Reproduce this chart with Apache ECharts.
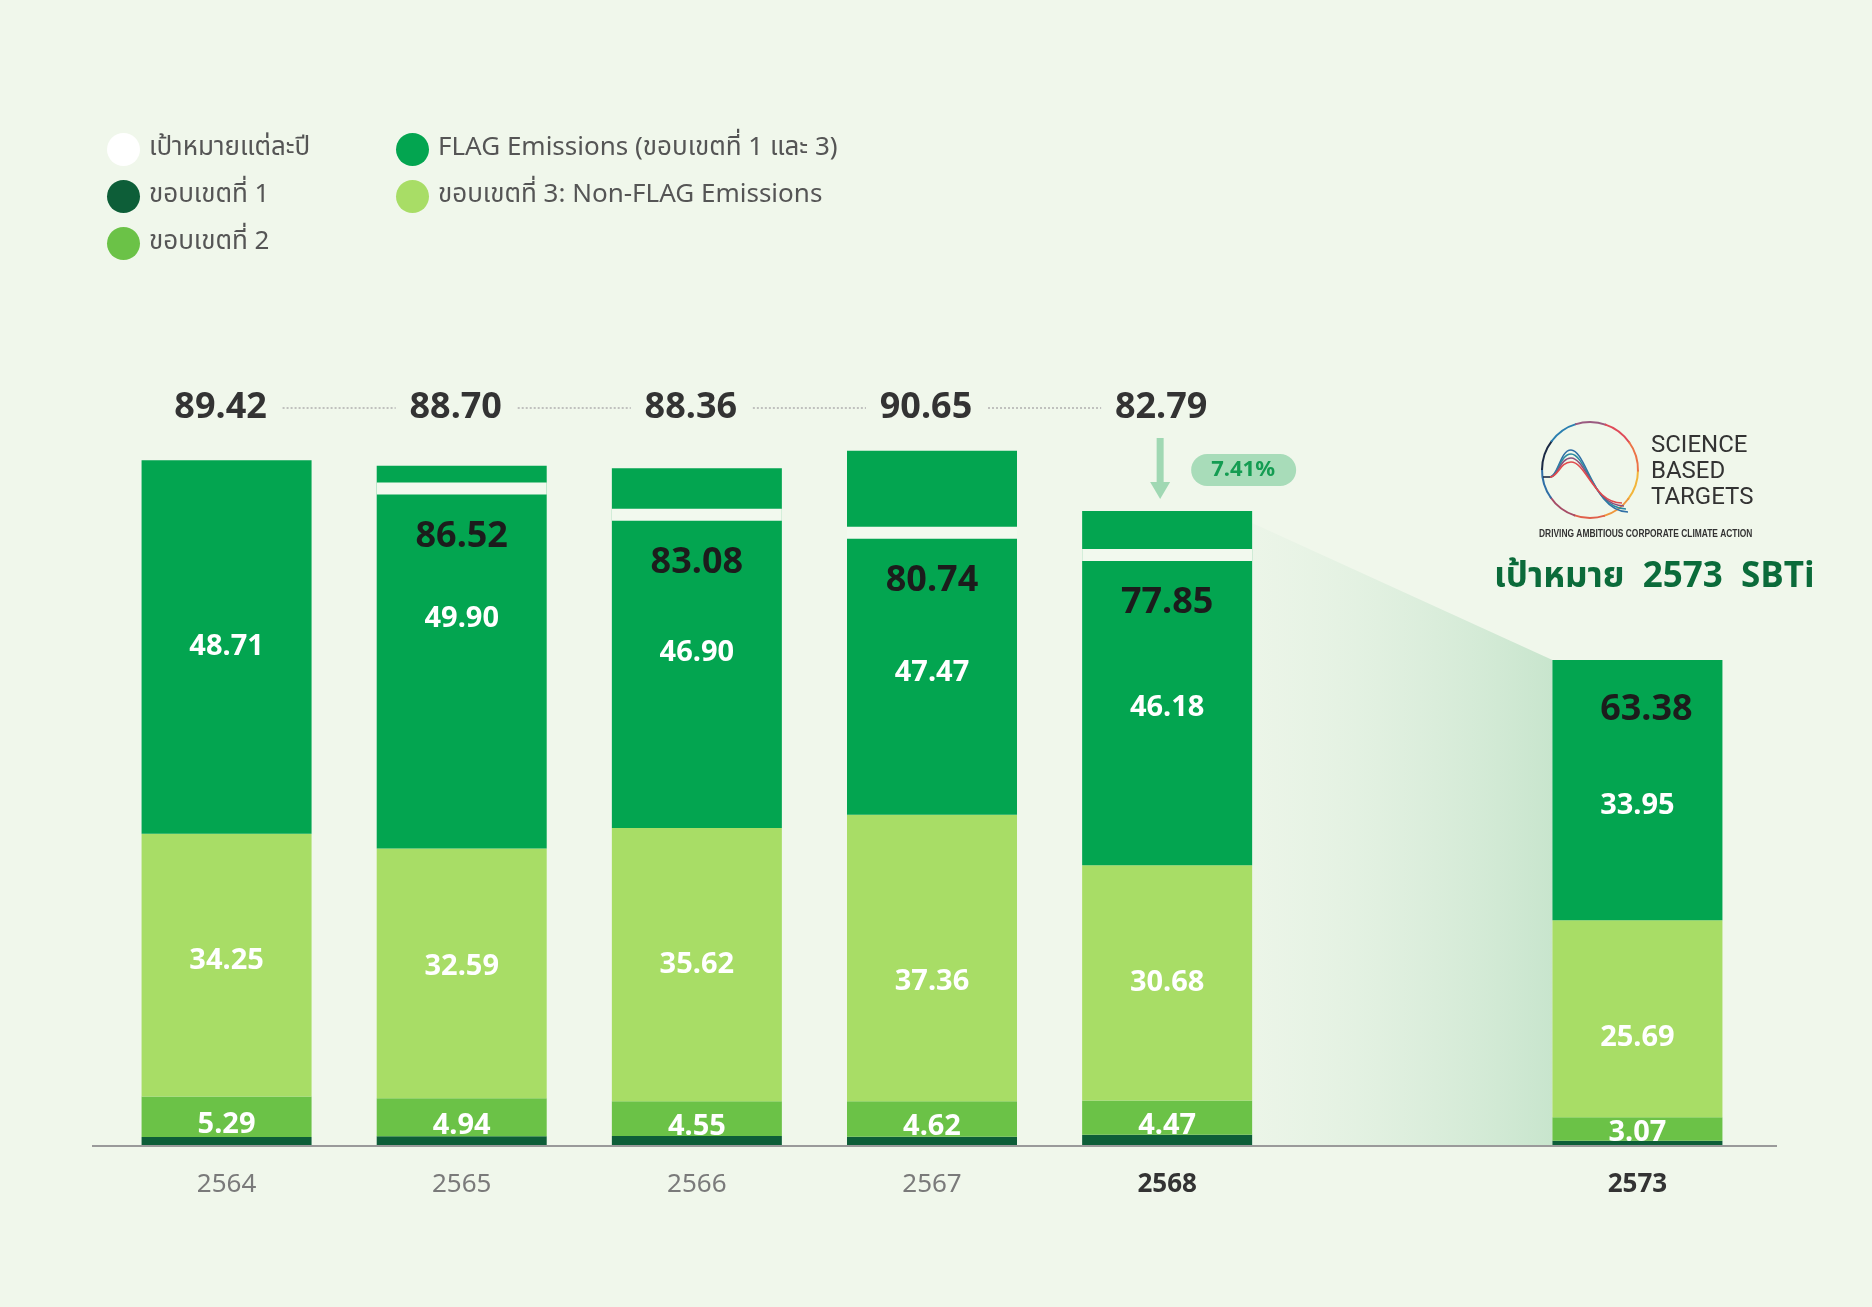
<!DOCTYPE html>
<html>
<head>
<meta charset="utf-8">
<title>SBTi emissions</title>
<script src="https://cdn.jsdelivr.net/npm/echarts@6/dist/echarts.min.js"></script>
<style>
  html, body { margin: 0; padding: 0; background: #f0f7eb; }
  #chart { width: 1872px; height: 1307px; }
</style>
</head>
<body>
<div id="chart"></div>
<script>
// ---- data ----
const years   = ['2564', '2565', '2566', '2567', '2568', '2573'];
const scope1  = [1.17, 1.27, 1.29, 1.20, 1.46, 0.67];
const scope2  = [5.29, 4.94, 4.55, 4.62, 4.47, 3.07];
const nonFlag = [34.25, 32.59, 35.62, 37.36, 30.68, 25.69];
const flag    = [48.71, 49.90, 46.90, 47.47, 46.18, 33.95];
const totals  = [89.42, 88.70, 88.36, 90.65, 82.79, 63.38];
const targets = [null, 86.52, 83.08, 80.74, 77.85, 63.38];

const NAMES = {
    target: 'เป้าหมายแต่ละปี',
    s1: 'ขอบเขตที่ 1',
    s2: 'ขอบเขตที่ 2',
    flag: 'FLAG Emissions (ขอบเขตที่ 1 และ 3)',
    nonFlag: 'ขอบเขตที่ 3: Non-FLAG Emissions'
};

// ---- layout / style ----
const BAR_W = 170;
const BAND_H = 12;
const ROW_Y = 408;          // row of yearly totals above bars
const THAI = "'Noto Sans Thai', 'Noto Sans', sans-serif";
const NUM = "'Noto Sans', sans-serif";
const flagShift = [0, -38, 5, 40, 20, 16];
const nonFlagShift = [-4, -7, 0, 24, 0, 19];
const scope2Shift = [8, 8, 8, 8, 8, 4];
const boldYears = ['2568', '2573'];

// years 2564..2568, empty slot, 2573
const slotOf = i => (i < 5 ? i : i + 1);
const slot = arr => [...arr.slice(0, 5), null, arr[5]];
const cats = [...years.slice(0, 5), '', years[5]].map(y =>
    boldYears.includes(y) ? { value: y, textStyle: { fontWeight: 'bold', color: '#333' } } : y);

const pct = ((totals[0] - totals[4]) / totals[0] * 100).toFixed(2) + '%';

var chart = echarts.init(document.getElementById('chart'));

function barSeries(name, arr, color, label, shifts) {
    let data = slot(arr.map((v, i) => shifts ? { value: v, label: { offset: [0, shifts[i]] } } : v));
    return {
        name: name, type: 'bar', stack: 'total', barWidth: BAR_W,
        itemStyle: { color: color },
        label: label,
        data: data,
        z: 3
    };
}

const whiteLabel = (size) => ({
    show: true, position: 'inside', color: '#fff', fontWeight: 'bold',
    fontFamily: NUM, fontSize: size,
    formatter: p => p.value == null ? '' : Number(p.value).toFixed(2)
});

// logo: ring in colour pieces and four waves
let waves = [];
const waveCols = ['#2f6fa6', '#2b8aa0', '#8a4f7c', '#e04b4d'];
for (let k = 0; k < 4; k++) {
    let py = 450 + k * 4, ex = 1628 - k * 2, ey = 512 - k * 3;
    let st = { stroke: waveCols[k], lineWidth: 1.6, fill: null };
    waves.push({ type: 'bezierCurve', shape: { x1: 1550, y1: 477, cpx1: 1558, cpy1: 477, cpx2: 1560, cpy2: py, x2: 1571, y2: py }, style: st });
    waves.push({ type: 'bezierCurve', shape: { x1: 1571, y1: py, cpx1: 1586, cpy1: py, cpx2: 1594, cpy2: ey, x2: ex, y2: ey }, style: st });
}
const ringCols = ['#f2b53a', '#ee973d', '#e0604a', '#a64c66', '#2f6fa6', '#1b2a44', '#2a7fb0', '#9a5a80', '#df4a58', '#ec7347'];
let ring = ringCols.map((c, i) => ({
    type: 'arc',
    shape: { cx: 1590, cy: 470, r: 48, startAngle: i * 2 * Math.PI / ringCols.length, endAngle: (i + 1.05) * 2 * Math.PI / ringCols.length },
    style: { stroke: c, lineWidth: 2, fill: null }
}));

option = {
    backgroundColor: '#f0f7eb',
    animation: false,
    grid: { left: 109, right: 117, top: 379, bottom: 161 },
    legend: [{
        orient: 'vertical', left: 102, top: 128, itemGap: 14,
        itemWidth: 33, itemHeight: 33, icon: 'circle', selectedMode: false,
        textStyle: { fontSize: 26, color: '#555', fontFamily: THAI, padding: [0, 0, 0, 4] },
        data: [NAMES.target, NAMES.s1, NAMES.s2]
    }, {
        orient: 'vertical', left: 391, top: 128, itemGap: 14,
        itemWidth: 33, itemHeight: 33, icon: 'circle', selectedMode: false,
        textStyle: { fontSize: 26, color: '#555', fontFamily: THAI, padding: [0, 0, 0, 4] },
        data: [NAMES.flag, NAMES.nonFlag]
    }],
    xAxis: {
        type: 'category', data: cats,
        axisLine: { show: false }, axisTick: { show: false },
        axisLabel: { margin: 26, fontSize: 26, color: '#7a7a7a', fontFamily: NUM }
    },
    yAxis: { type: 'value', min: 0, max: 100, show: false },
    graphic: [
        { type: 'line', shape: { x1: 92, y1: 1146, x2: 1777, y2: 1146 }, style: { stroke: '#9a9a9a', lineWidth: 2 }, z: 10 },
        ...ring, ...waves,
        { type: 'line', shape: { x1: 1543, y1: 477, x2: 1550, y2: 477 }, style: { stroke: '#1b2a44', lineWidth: 1.6 } },
        { type: 'text', left: 1651, top: 433, style: { text: 'SCIENCE\nBASED\nTARGETS', font: '24px Roboto', lineHeight: 26, fill: '#333' } },
        { type: 'text', x: 1539, y: 529, scaleX: 0.84, style: { text: 'DRIVING AMBITIOUS CORPORATE CLIMATE ACTION', font: 'bold 10px "Liberation Sans", Arial, sans-serif', fill: '#333' } },
        { type: 'text', left: 1494, top: 562, style: { text: 'เป้าหมาย  2573  SBTi', font: 'bold 35px ' + THAI, fill: '#0b6b3a' } }
    ],
    series: [
        {
            // shaded transition from 2568 to the 2573 target
            type: 'custom', z: 1, silent: true,
            data: [[slotOf(4), totals[4], slotOf(5), totals[5]]],
            renderItem: (params, api) => {
                const a = api.coord([api.value(0), api.value(1)]);
                const b = api.coord([api.value(2), api.value(3)]);
                const base = api.coord([0, 0])[1];
                const x1 = a[0] + BAR_W / 2, x2 = b[0] - BAR_W / 2;
                return {
                    type: 'polygon',
                    shape: { points: [[x1, a[1] + 12], [x2, b[1]], [x2, base], [x1, base]] },
                    style: {
                        fill: new echarts.graphic.LinearGradient(0, 0, 1, 0, [
                            { offset: 0, color: 'rgba(225,240,225,0.3)' },
                            { offset: 1, color: '#c8e5cd' }
                        ])
                    }
                };
            }
        },
        barSeries(NAMES.s1, scope1, '#0d5e38', { show: false }),
        barSeries(NAMES.s2, scope2, '#6bc247', whiteLabel(29), scope2Shift),
        barSeries(NAMES.nonFlag, nonFlag, '#a8dd66', whiteLabel(29), nonFlagShift),
        barSeries(NAMES.flag, flag, '#03a550', whiteLabel(29), flagShift),
        {
            name: NAMES.target, type: 'custom', z: 5,
            itemStyle: { color: '#ffffff' },
            data: targets.map((v, i) => v == null ? null : [slotOf(i), v, totals[i]]).filter(d => d),
            renderItem: (params, api) => {
                const x = api.coord([api.value(0), 0])[0];
                const y = api.coord([api.value(0), api.value(1)])[1];
                const band = api.value(1) < api.value(2) - 0.01;
                const kids = [];
                if (band) kids.push({ type: 'rect', shape: { x: x - BAR_W / 2, y: y, width: BAR_W, height: BAND_H }, style: { fill: '#f2f9ee' } });
                kids.push({
                    type: 'text',
                    style: { text: api.value(1).toFixed(2), x: x + (band ? 0 : 9), y: y + (band ? 54 : 50), align: 'center', verticalAlign: 'middle', font: 'bold 36px ' + NUM, fill: '#1c1c1c' }
                });
                return { type: 'group', children: kids };
            }
        },
        {
            // totals row, dotted connectors, arrow and change badge
            type: 'custom', z: 6, silent: true,
            data: totals.slice(0, 5).map((v, i) => [slotOf(i), v]),
            renderItem: (params, api) => {
                const i = api.value(0);
                const x = api.coord([i, 0])[0];
                const kids = [{
                    type: 'text',
                    style: { text: api.value(1).toFixed(2), x: x - 6, y: ROW_Y, align: 'center', verticalAlign: 'middle', font: 'bold 36px ' + NUM, fill: '#333' }
                }];
                if (i < 4) {
                    const nx = api.coord([i + 1, 0])[0];
                    kids.push({ type: 'line', shape: { x1: x + 56, y1: ROW_Y, x2: nx - 66, y2: ROW_Y }, style: { stroke: '#b0b0b0', lineWidth: 1.5, lineDash: [2, 2] } });
                } else {
                    const top = api.coord([i, api.value(1)])[1];
                    const ax = x - 7, tip = top - 12;
                    kids.push({ type: 'rect', shape: { x: ax - 3.5, y: ROW_Y + 30, width: 7, height: tip - 17 - ROW_Y - 30 }, style: { fill: '#a0d8b3' } });
                    kids.push({ type: 'polygon', shape: { points: [[ax - 10, tip - 17], [ax + 10, tip - 17], [ax, tip]] }, style: { fill: '#a0d8b3' } });
                    kids.push({ type: 'rect', shape: { x: x + 24, y: 454, width: 105, height: 32, r: 16 }, style: { fill: '#a8dcb9' } });
                    kids.push({ type: 'text', style: { text: pct, x: x + 76, y: 470, align: 'center', verticalAlign: 'middle', font: 'bold 22px ' + NUM, fill: '#149c52' } });
                }
                return { type: 'group', children: kids };
            }
        }
    ]
};

chart.setOption(option);
</script>
</body>
</html>
